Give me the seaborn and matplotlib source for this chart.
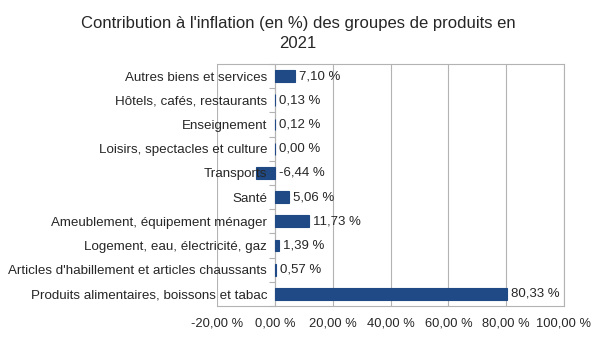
import matplotlib
matplotlib.use("Agg")
import matplotlib.pyplot as plt
import matplotlib.ticker as mticker
import seaborn as sns
import pandas as pd

categories = [
    "Autres biens et services",
    "Hôtels, cafés, restaurants",
    "Enseignement",
    "Loisirs, spectacles et culture",
    "Transports",
    "Santé",
    "Ameublement, équipement ménager",
    "Logement, eau, électricité, gaz",
    "Articles d'habillement et articles chaussants",
    "Produits alimentaires, boissons et tabac",
]
values = [7.10, 0.13, 0.12, 0.00, -6.44, 5.06, 11.73, 1.39, 0.57, 80.33]
xticks = [-20, 0, 20, 40, 60, 80, 100]
title_lines = ["Contribution à l'inflation (en %) des groupes de produits en", "2021"]

sns.set_style("white")
plt.rcParams['font.family'] = ['Liberation Sans', 'DejaVu Sans']

df = pd.DataFrame({"cat": categories, "val": values})

W, H = 596, 337
fig = plt.figure(figsize=(W/100, H/100), dpi=100)
ax = fig.add_axes([217/W, 1-306/H, (564-217)/W, (306-64)/H])

bar_color = "#1f4a85"
sns.barplot(data=df, x="val", y="cat", orient="h", color=bar_color,
            width=0.48, ax=ax, saturation=1,
            edgecolor=bar_color, linewidth=0.8)
for p in ax.patches:
    p.set_zorder(1.5)

ax.set_xlim(-20, 100)
ax.set_ylim(9.5, -0.5)
ax.set_xticks(xticks)
ax.xaxis.set_major_formatter(mticker.FuncFormatter(
    lambda v, p: f"{v:.2f}".replace('.', ',') + " %"))
ax.set_xlabel("")
ax.set_ylabel("")

grid_c = "#b3b3b3"
ax.grid(axis='x', color=grid_c, linewidth=0.8)
ax.set_axisbelow(True)
ax.yaxis.set_zorder(2.5)
for s in ['top', 'bottom', 'right']:
    ax.spines[s].set_color(grid_c)
    ax.spines[s].set_linewidth(0.8)
    ax.spines[s].set_visible(True)
ax.spines['left'].set_position(('data', 0))
ax.spines['left'].set_color(grid_c)
ax.spines['left'].set_linewidth(0.8)
ax.spines['left'].set_zorder(1.2)

ax.tick_params(axis='x', which='major', length=0, labelsize=9.3, pad=8)
ax.tick_params(axis='y', which='major', length=0, labelsize=9.6, pad=5.5)
ax.set_yticks([i - 0.5 for i in range(11)], minor=True)
ax.tick_params(axis='y', which='minor', length=4, color=grid_c, width=0.8,
               direction='out', left=True)

for i, v in enumerate(values):
    ax.text(max(v, 0) + 1.3, i, f"{v:.2f}".replace('.', ',') + " %",
            va='center', ha='left', fontsize=9.5, zorder=4)

fig.text(0.5, 1 - 28.3/H, title_lines[0], ha='center', va='baseline', fontsize=12)
fig.text(0.5, 1 - 48.3/H, title_lines[1], ha='center', va='baseline', fontsize=12)

fig.savefig("out.png", dpi=100, facecolor="white")
